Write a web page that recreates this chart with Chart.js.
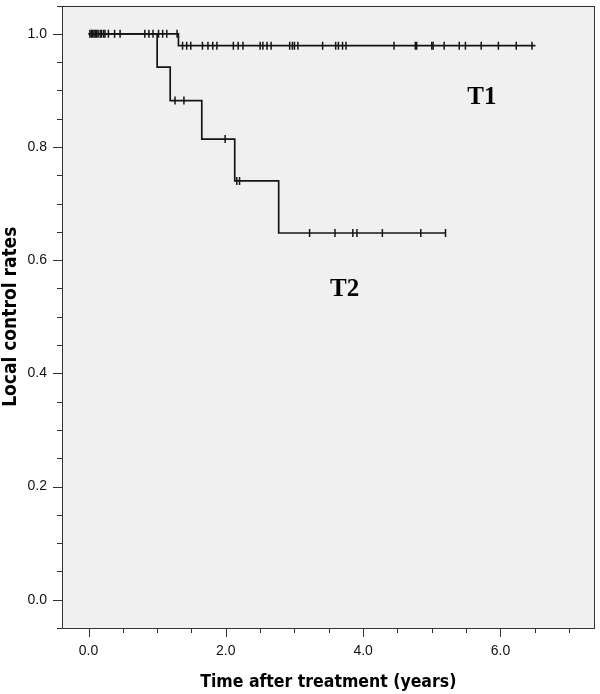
<!DOCTYPE html>
<html>
<head>
<meta charset="utf-8">
<script src="https://cdn.jsdelivr.net/npm/chart.js@4.4.1/dist/chart.umd.min.js"></script>
<style>
  html, body { margin: 0; padding: 0; background: #ffffff; }
  #wrap { width: 600px; height: 694px; position: relative; }
</style>
</head>
<body>
<div id="wrap"><canvas id="c"></canvas></div>
<script>
// ---- Data ----
// Kaplan-Meier step points (time in years, local control rate)
const t1Times = [0, 1.31, 6.51];
const t1Rates = [1.0, 0.979, 0.979];
const t2Times = [0, 1.00, 1.19, 1.65, 2.13, 2.77, 5.20];
const t2Rates = [1.0, 0.941, 0.882, 0.814, 0.740, 0.648, 0.648];
// Censoring marks (years)
const t1Censored = [0.02, 0.04, 0.06, 0.08, 0.10, 0.12, 0.14, 0.17, 0.19, 0.22, 0.24, 0.29, 0.38, 0.46,
  0.82, 0.88, 0.94, 1.02, 1.08, 1.14, 1.29,
  1.37, 1.43, 1.49, 1.66, 1.74, 1.81, 1.87, 2.11, 2.18, 2.25, 2.50, 2.54, 2.60, 2.66,
  2.93, 2.97, 3.00, 3.05, 3.41, 3.60, 3.64, 3.70, 3.75, 4.45, 4.76, 4.78, 5.00, 5.02,
  5.18, 5.40, 5.49, 5.72, 5.97, 6.23, 6.46];
const t2Censored = [1.26, 1.39, 1.99, 2.16, 2.20, 3.22, 3.59, 3.85, 3.91, 4.28, 4.84, 5.20];
// Group labels and their anchor (data coordinates)
const groupNames = ['T1', 'T2'];
const groupLabelX = [5.73, 3.73];
const groupLabelY = [0.888, 0.548];
// Axis titles
const xTitle = 'Time after treatment (years)';
const yTitle = 'Local control rates';

function stepValue(times, rates, t) {
  let r = rates[0];
  for (let i = 0; i < times.length; i++) { if (times[i] <= t) r = rates[i]; }
  return r;
}
const curve = (times, rates) => times.map((t, i) => ({x: t, y: rates[i]}));
const marks = (cens, times, rates) => cens.map(t => ({x: t, y: stepValue(times, rates, t)}));

const lineColor = '#141414';

const framePlugin = {
  id: 'frame',
  beforeDraw(chart) {
    const {ctx, chartArea: a} = chart;
    ctx.save();
    ctx.fillStyle = '#ffffff';
    ctx.fillRect(0, 0, chart.width, chart.height);
    ctx.fillStyle = '#f0f0f0';
    ctx.fillRect(a.left, a.top, a.right - a.left, a.bottom - a.top);
    ctx.restore();
  },
  afterDatasetsDraw(chart) {
    const {ctx, scales} = chart;
    ctx.save();
    ctx.fillStyle = '#000';
    ctx.font = 'bold 25px "Liberation Serif", "Times New Roman", serif';
    ctx.textAlign = 'center';
    ctx.textBaseline = 'middle';
    groupNames.forEach((n, i) => {
      ctx.fillText(n, scales.x.getPixelForValue(groupLabelX[i]), scales.y.getPixelForValue(groupLabelY[i]));
    });
    ctx.restore();
  },
  afterDraw(chart) {
    const {ctx, chartArea: a, scales} = chart;
    ctx.save();
    ctx.strokeStyle = '#333333';
    ctx.lineWidth = 1;
    ctx.strokeRect(Math.round(a.left) + 0.5, Math.round(a.top) + 0.5,
                   Math.round(a.right - a.left) - 1, Math.round(a.bottom - a.top) - 1);
    ctx.beginPath();
    scales.y.ticks.forEach(t => {
      const py = Math.round(scales.y.getPixelForValue(t.value)) + 0.5;
      const major = Math.abs(t.value * 5 - Math.round(t.value * 5)) < 1e-6;
      const len = major ? 9 : 5;
      ctx.moveTo(a.left - len, py); ctx.lineTo(a.left, py);
    });
    scales.x.ticks.forEach(t => {
      const px = Math.round(scales.x.getPixelForValue(t.value)) + 0.5;
      const major = Math.abs(t.value / 2 - Math.round(t.value / 2)) < 1e-6;
      const len = major ? 9 : 5;
      ctx.moveTo(px, a.bottom); ctx.lineTo(px, a.bottom + len);
    });
    ctx.stroke();
    ctx.restore();
  }
};

const lineDs = (data) => ({
  type: 'line', data, stepped: 'before', borderColor: lineColor, borderWidth: 1.7,
  pointRadius: 0, fill: false, tension: 0
});
const markDs = (data) => ({
  type: 'scatter', data, pointStyle: 'line', rotation: 90, pointRadius: 4,
  borderColor: lineColor, borderWidth: 1.5, pointHoverRadius: 4
});

new Chart(document.getElementById('c'), {
  type: 'scatter',
  data: {
    datasets: [
      lineDs(curve(t1Times, t1Rates)),
      lineDs(curve(t2Times, t2Rates)),
      markDs(marks(t1Censored, t1Times, t1Rates)),
      markDs(marks(t2Censored, t2Times, t2Rates))
    ]
  },
  options: {
    responsive: true,
    maintainAspectRatio: false,
    animation: false,
    events: [],
    layout: { padding: { top: 3, right: 4, left: 0, bottom: 0 } },
    plugins: { legend: { display: false }, tooltip: { enabled: false } },
    scales: {
      x: {
        type: 'linear', min: -0.386, max: 7.37,
        afterBuildTicks: s => { s.ticks = s.ticks.filter(t => t.value >= s.min - 1e-9 && t.value <= s.max + 1e-9); },
        afterFit: s => { s.height = 66; s.paddingLeft = 0; s.paddingRight = 0; },
        grid: { display: false, drawTicks: false },
        border: { display: false },
        ticks: {
          stepSize: 0.5, includeBounds: false, autoSkip: false, maxRotation: 0,
          padding: 15, color: '#111',
          font: { family: '"Liberation Sans", Arial, sans-serif', size: 14 },
          callback: v => (Math.abs(v / 2 - Math.round(v / 2)) < 1e-6 ? v.toFixed(1) : '')
        },
        title: {
          display: true, text: xTitle, color: '#000',
          font: { family: '"DejaVu Sans Condensed", "DejaVu Sans", sans-serif', size: 17.5, weight: 'bold' },
          padding: { top: 0, bottom: 1 }
        }
      },
      y: {
        type: 'linear', min: -0.05, max: 1.05,
        afterBuildTicks: s => { s.ticks = s.ticks.filter(t => t.value >= s.min - 1e-9 && t.value <= s.max + 1e-9); },
        afterFit: s => { s.width = 62; s.paddingTop = 0; s.paddingBottom = 0; },
        grid: { display: false, drawTicks: false },
        border: { display: false },
        ticks: {
          stepSize: 0.05, includeBounds: false, autoSkip: false,
          padding: 15, color: '#111',
          font: { family: '"Liberation Sans", Arial, sans-serif', size: 14 },
          callback: v => (Math.abs(v * 5 - Math.round(v * 5)) < 1e-6 ? v.toFixed(1) : '')
        },
        title: {
          display: true, text: yTitle, color: '#000',
          font: { family: '"DejaVu Sans Condensed", "DejaVu Sans", sans-serif', size: 19, weight: 'bold' },
          padding: { top: 0, bottom: 0 }
        }
      }
    }
  },
  plugins: [framePlugin]
});
</script>
</body>
</html>
